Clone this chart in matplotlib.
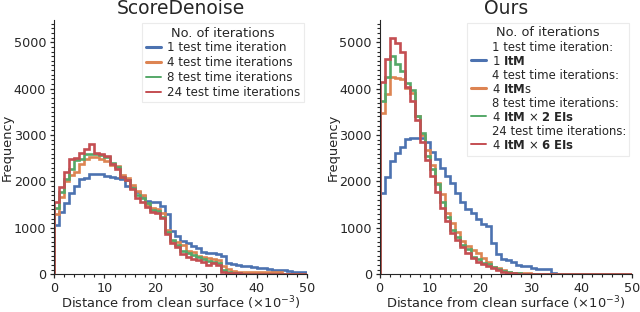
import numpy as np
import matplotlib
matplotlib.use("Agg")
import matplotlib.pyplot as plt
import seaborn as sns
from matplotlib.lines import Line2D
from matplotlib.legend_handler import HandlerLine2D
from matplotlib.ticker import MultipleLocator

# ── data (counts per bin of width 1e-3, bins 0..50) ───────────────────────────
bin_edges = np.arange(0, 51, 1)

score_1 = [1060, 1350, 1530, 1745, 1900, 2050, 2080, 2170, 2160, 2150,
           2120, 2100, 2080, 2050, 1900, 1880, 1780, 1690, 1570, 1560,
           1560, 1480, 1300, 930, 825, 718, 681, 610, 560, 487,
           466, 450, 440, 394, 240, 220, 200, 185, 170, 155,
           140, 125, 110, 100, 95, 85, 70, 55, 45, 40]
score_4 = [1300, 1670, 2000, 2140, 2210, 2370, 2480, 2535, 2520, 2480,
           2450, 2360, 2330, 2140, 2080, 1920, 1800, 1700, 1490, 1420,
           1400, 1314, 955, 718, 703, 631, 509, 487, 394, 379,
           344, 330, 308, 170, 110, 60, 40, 40, 40, 40,
           40, 40, 40, 40, 40, 0, 0, 0, 0, 0]
score_8 = [1420, 1780, 2050, 2270, 2460, 2480, 2590, 2600, 2600, 2570,
           2530, 2400, 2320, 2100, 2030, 1850, 1710, 1640, 1530, 1390,
           1370, 1240, 918, 739, 625, 509, 466, 416, 365, 322,
           293, 272, 250, 93, 50, 25, 20, 15, 0, 0,
           0, 0, 0, 0, 0, 0, 0, 0, 0, 0]
score_24 = [1560, 1890, 2210, 2480, 2510, 2620, 2690, 2810, 2610, 2590,
            2550, 2370, 2260, 2100, 2030, 1830, 1640, 1565, 1457, 1336,
            1314, 1207, 862, 681, 595, 437, 379, 336, 308, 272,
            200, 236, 200, 57, 36, 25, 20, 10, 0, 0,
            0, 0, 0, 0, 0, 0, 0, 0, 0, 0]

ours_1 = [1760, 2100, 2440, 2620, 2750, 2910, 2930, 2940, 2940, 2860,
          2630, 2490, 2284, 2120, 1960, 1759, 1565, 1400, 1310, 1180,
          1084, 1050, 670, 430, 330, 300, 260, 190, 180, 170,
          136, 122, 108, 108, 20, 15, 15, 10, 10, 0,
          0, 0, 0, 0, 0, 0, 0, 0, 0, 0]
ours_4 = [3480, 3890, 4260, 4220, 4200, 4010, 3900, 3410, 3000, 2680,
          2360, 1965, 1727, 1330, 1110, 900, 724, 600, 530, 455,
          344, 255, 165, 129, 90, 57, 36, 30, 22, 20,
          15, 0, 0, 0, 0, 0, 0, 0, 0, 0,
          0, 0, 0, 0, 0, 0, 0, 0, 0, 0]
ours_8 = [3740, 4260, 4710, 4530, 4390, 4120, 3960, 3420, 3040, 2540,
          2260, 1946, 1550, 1241, 955, 800, 631, 539, 380, 323,
          250, 215, 165, 121, 78, 43, 29, 20, 15, 0,
          0, 0, 0, 0, 0, 0, 0, 0, 0, 0,
          0, 0, 0, 0, 0, 0, 0, 0, 0, 0]
ours_24 = [4150, 4630, 5090, 4990, 4780, 4040, 3740, 3320, 2840, 2460,
           2120, 1780, 1420, 1150, 884, 739, 595, 452, 344, 272,
           222, 179, 129, 93, 57, 36, 20, 15, 0, 0,
           0, 0, 0, 0, 0, 0, 0, 0, 0, 0,
           0, 0, 0, 0, 0, 0, 0, 0, 0, 0]

score_labels = ["1 test time iteration", "4 test time iterations",
                "8 test time iterations", "24 test time iterations"]
ours_labels = ["1 test time iteration:\n1 $\\mathbf{ItM}$",
               "4 test time iterations:\n4 $\\mathbf{ItM}$s",
               "8 test time iterations:\n4 $\\mathbf{ItM}$ × $\\mathbf{2\\ EIs}$",
               "24 test time iterations:\n4 $\\mathbf{ItM}$ × $\\mathbf{6\\ EIs}$"]

colors = ["#4C72B0", "#DD8452", "#55A868", "#C44E52"]
legend_lw = [2.2, 2.2, 1.4, 1.4]

# ── style ─────────────────────────────────────────────────────────────────────
sns.set_style("ticks")
plt.rcParams["font.family"] = ["DejaVu Sans"]
plt.rcParams["text.color"] = ".15"
plt.rcParams["axes.labelcolor"] = ".15"


class LowLine(HandlerLine2D):
    # put the legend line next to the second text line of a two-line label
    def __init__(self, shift, **kw):
        super().__init__(**kw)
        self.shift = shift

    def create_artists(self, legend, orig_handle, xdescent, ydescent,
                       width, height, fontsize, trans):
        arts = super().create_artists(legend, orig_handle, xdescent, ydescent,
                                      width, height, fontsize, trans)
        for a in arts:
            a.set_ydata(np.asarray(a.get_ydata()) - self.shift)
        return arts


def draw_panel(ax, series, labels, title, two_line):
    for vals, c in zip(series, colors):
        ax.stairs(vals, bin_edges, color=c, linewidth=1.9)
    ax.set_xlim(0, 50)
    ax.set_ylim(0, 5480)
    ax.xaxis.set_major_locator(MultipleLocator(10))
    ax.xaxis.set_minor_locator(MultipleLocator(2))
    ax.yaxis.set_major_locator(MultipleLocator(1000))
    ax.yaxis.set_minor_locator(MultipleLocator(100))
    ax.tick_params(axis="both", which="major", labelsize=9.2, length=3, width=0.9, pad=2.5)
    ax.tick_params(axis="both", which="minor", length=2, width=0.8)
    ax.spines["top"].set_visible(False)
    ax.spines["right"].set_visible(False)
    ax.set_title(title, fontsize=13.5, pad=4)
    ax.set_xlabel("Distance from clean surface ($\\times10^{-3}$)", fontsize=9.4, labelpad=0)
    ax.set_ylabel("Frequency", fontsize=9.4, labelpad=0)

    handles = [Line2D([], [], color=c, lw=w) for c, w in zip(colors, legend_lw)]
    hmap = {}
    if two_line:
        hmap = {h: LowLine(3.4) for h in handles}
    leg = ax.legend(handles, labels, title="No. of iterations", loc="upper right",
                    fontsize=8.4 if two_line else 8.6, title_fontsize=9.3,
                    handlelength=1.3, handletextpad=0.5,
                    labelspacing=0.15 if not two_line else 0.1,
                    borderaxespad=0.25, borderpad=0.3, frameon=True, fancybox=False,
                    handler_map=hmap)
    if two_line:
        for t in leg.get_texts():
            t.set_linespacing(1.1)
    leg.get_frame().set_edgecolor("0.9")
    leg.get_frame().set_linewidth(0.8)


fig = plt.figure(figsize=(6.4, 3.12), dpi=100)
ax1 = fig.add_axes([0.084, 0.121, 0.396, 0.815])
ax2 = fig.add_axes([0.593, 0.121, 0.395, 0.815])

draw_panel(ax1, [score_1, score_4, score_8, score_24], score_labels, "ScoreDenoise", False)
draw_panel(ax2, [ours_1, ours_4, ours_8, ours_24], ours_labels, "Ours", True)

fig.savefig("out.png", dpi=100)
